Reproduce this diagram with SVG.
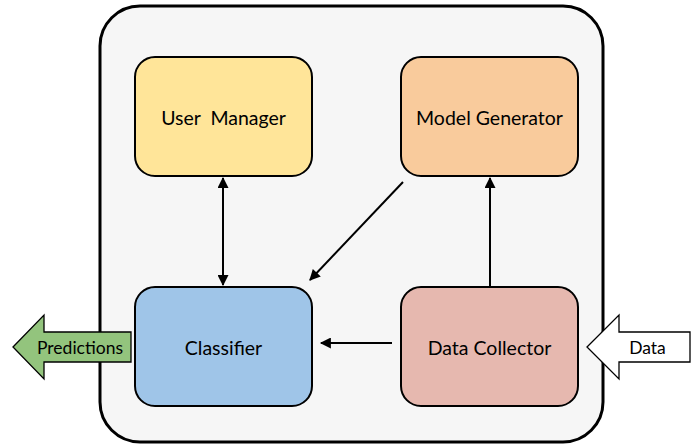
<svg xmlns="http://www.w3.org/2000/svg" width="693" height="445" viewBox="0 0 693 445">
  <defs>
    <marker id="head" viewBox="0 0 10 10" refX="9" refY="5" markerWidth="6" markerHeight="5.5" orient="auto-start-reverse" markerUnits="strokeWidth">
      <path d="M0,0 L10,5 L0,10 Z" fill="#000"/>
    </marker>
    <style>
      .box { stroke: #000; stroke-width: 2; }
      .label { font-family: Lato, "Noto Sans", sans-serif; font-size: 19.5px; fill: #000; text-anchor: middle; dominant-baseline: central; }
      .small { font-size: 17.5px; }
      .edge { stroke: #000; stroke-width: 2; fill: none; }
    </style>
  </defs>

  <!-- system boundary -->
  <g id="system">
    <rect x="100" y="6" width="503" height="436" rx="40" ry="40" fill="#f6f6f6" stroke="#000" stroke-width="3"/>
  </g>

  <g id="user-manager">
    <rect class="box" x="135" y="57" width="177" height="119" rx="20" ry="20" fill="#ffe599"/>
    <text class="label" x="223.5" y="117" xml:space="preserve">User  Manager</text>
  </g>

  <g id="model-generator">
    <rect class="box" x="401" y="57" width="177" height="119" rx="20" ry="20" fill="#f9cb9c"/>
    <text class="label" x="489.5" y="117">Model Generator</text>
  </g>

  <g id="classifier">
    <rect class="box" x="135" y="287" width="177" height="119" rx="20" ry="20" fill="#9fc5e8"/>
    <text class="label" x="223.5" y="347">Classifier</text>
  </g>

  <g id="data-collector">
    <rect class="box" x="401" y="287" width="177" height="119" rx="20" ry="20" fill="#e6b8af"/>
    <text class="label" x="489.5" y="347">Data Collector</text>
  </g>

  <g id="predictions">
    <path d="M13,347 L44,315 L44,332 L131,332 L131,362 L44,362 L44,379 Z" fill="#93c47d" stroke="#000" stroke-width="1.3"/>
    <text class="label small" x="80" y="347">Predictions</text>
  </g>

  <g id="data">
    <path d="M587,347 L619,315 L619,332 L690,332 L690,362 L619,362 L619,379 Z" fill="#fff" stroke="#000" stroke-width="1.3"/>
    <text class="label small" x="647.5" y="347">Data</text>
  </g>

  <g id="connectors">
    <line class="edge" x1="223" y1="178" x2="223" y2="285" marker-start="url(#head)" marker-end="url(#head)"/>
    <line class="edge" x1="403" y1="182" x2="310" y2="280" marker-end="url(#head)"/>
    <line class="edge" x1="392" y1="343" x2="321" y2="343" marker-end="url(#head)"/>
    <line class="edge" x1="490" y1="287" x2="490" y2="178" marker-end="url(#head)"/>
  </g>
</svg>
